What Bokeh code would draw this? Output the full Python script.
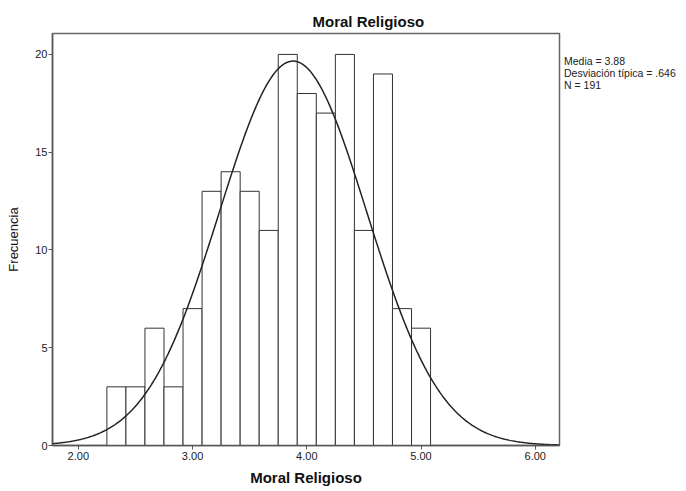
import numpy as np
from bokeh.plotting import figure
from bokeh.models import FixedTicker, NumeralTickFormatter, ColumnDataSource, Legend, LegendItem
from bokeh.embed import file_html
from bokeh.resources import INLINE

# ---- data ----
title_text = "Moral Religioso"
x_label = "Moral Religioso"
y_label = "Frecuencia"
counts = [3, 3, 6, 3, 7, 13, 14, 13, 11, 20, 18, 17, 20, 11, 19, 7, 6]
bin_start = 2.25
bin_width = 1 / 6
mean_val = 3.88
sd_val = 0.646
n_val = 191
x_ticks = [2, 3, 4, 5, 6]
y_ticks = [0, 5, 10, 15, 20]
stats_lines = ["Media = 3.88", "Desviación típica = .646", "N = 191"]

FONT = "Liberation Sans"
X0, X1 = 1.774, 6.212
Y0, Y1 = 0, 21.07

lefts = [bin_start + i * bin_width for i in range(len(counts))]
rights = [l + bin_width for l in lefts]
src = ColumnDataSource(dict(left=lefts, right=rights, top=counts, bottom=[0] * len(counts)))

p = figure(frame_width=507, frame_height=412, x_range=(X0, X1), y_range=(Y0, Y1),
           output_backend="svg", toolbar_location=None,
           min_border_left=52, min_border_right=127, min_border_top=33, min_border_bottom=46)
p.background_fill_color = "white"
p.border_fill_color = "white"
p.outline_line_color = "#666666"
p.outline_line_width = 1.5
p.xgrid.visible = False
p.ygrid.visible = False

# title
p.title.text = title_text
p.title.align = "left"
p.title.offset = 260
p.title.standoff = 7
p.title.text_font = FONT
p.title.text_font_size = "15px"
p.title.text_font_style = "bold"
p.title.text_color = "#111111"

p.quad(left="left", right="right", top="top", bottom="bottom", source=src,
       fill_color="white", line_color="#333333", line_width=1)

# fitted normal curve from reported mean, sd and N
xs = np.linspace(X0, X1, 400)
ys = n_val * bin_width * np.exp(-0.5 * ((xs - mean_val) / sd_val) ** 2) / (sd_val * np.sqrt(2 * np.pi))
p.line(xs, ys, line_color="#222222", line_width=1.5)

for ax in (p.xaxis[0], p.yaxis[0]):
    ax.axis_line_color = "#555555"
    ax.axis_line_width = 1.5
    ax.major_tick_line_color = "#555555"
    ax.major_tick_in = 0
    ax.major_tick_out = 4
    ax.minor_tick_line_color = None
    ax.major_label_text_font = FONT
    ax.major_label_text_font_size = "11px"
    ax.major_label_text_color = "#222222"
    ax.axis_label_text_font = FONT
    ax.axis_label_text_color = "#111111"

p.xaxis.ticker = FixedTicker(ticks=x_ticks)
p.xaxis.formatter = NumeralTickFormatter(format="0.00")
p.xaxis.major_label_standoff = 2
p.xaxis.axis_label = x_label
p.xaxis.axis_label_text_font_size = "15px"
p.xaxis.axis_label_text_font_style = "bold"
p.xaxis.axis_label_standoff = 6

p.yaxis.ticker = FixedTicker(ticks=y_ticks)
p.yaxis.major_label_standoff = 1
p.yaxis.axis_label = y_label
p.yaxis.axis_label_text_font_size = "13px"
p.yaxis.axis_label_text_font_style = "normal"
p.yaxis.axis_label_standoff = 11

# statistics text block as a glyph-less legend at the right
dummy = p.line(x=[], y=[], line_alpha=0)
items = [LegendItem(label=s, renderers=[dummy]) for s in stats_lines]
legend = Legend(items=items, location="top_left", orientation="vertical",
                title=" ", title_text_font_size="10px", title_standoff=11,
                glyph_width=0, glyph_height=10, label_height=10, label_standoff=5,
                spacing=0, padding=0, margin=0, border_line_color=None,
                background_fill_alpha=0, label_text_font=FONT, label_text_font_size="10.5px",
                label_text_color="#222222", click_policy="none")
p.add_layout(legend, "right")

open("out.html", "w").write(file_html(p, INLINE))
